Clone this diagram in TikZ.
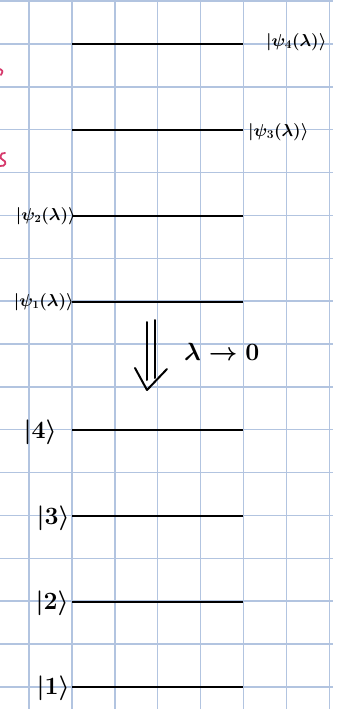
\documentclass[tikz,border=0pt]{standalone}
\usetikzlibrary{arrows.meta}
\definecolor{gridblue}{RGB}{178,196,224}
\definecolor{inkpink}{RGB}{214,58,108}
\tikzset{
  gridline/.style={gridblue, line width=1.4pt},
  level/.style={black, line width=2.4pt},
  ket/.style={inner sep=0pt, font=\fontsize{27}{30}\selectfont\boldmath},
  psilabel/.style={inner sep=0pt, font=\fontsize{18}{22}\selectfont\boldmath},
  psismall/.style={inner sep=0pt, font=\fontsize{16}{19}\selectfont\boldmath},
  pinkmark/.style={inkpink, line width=1.8pt, line cap=round}
}
\begin{document}
\begin{tikzpicture}[x=1pt,y=-1pt]
\useasboundingbox[fill=white] (0,0) rectangle (343,709);
% grid
\foreach \i in {0,...,7} \draw[gridline] ({29+42.9*\i},0) -- ({29+42.9*\i},709);
\foreach \j in {0,...,16} \draw[gridline] (0,{1.2+42.85*\j}) -- (333,{1.2+42.85*\j});
% pink remnants at left edge
\draw[pinkmark] (0,69) .. controls (3,71) .. (1,75);
\draw[pinkmark] (5,153) .. controls (0,152) and (-1,159) .. (3,160) .. controls (7,161) and (6,167) .. (0,166);
% level lines
\foreach \n/\y in {p4/44,p3/130,p2/216,p1/302,k4/430,k3/516,k2/602,k1/687} {
  \coordinate (\n L) at (72,\y);
  \coordinate (\n R) at (243,\y);
  \draw[level] (\n L) -- (\n R);
}
% labels
\node[psilabel, anchor=west] (lp4) at (266,42) {$|\psi_4(\lambda)\rangle$};
\node[psilabel, anchor=west] (lp3) at (248,132) {$|\psi_3(\lambda)\rangle$};
\node[psismall, anchor=east] (lp2) at (76,216) {$|\psi_2(\lambda)\rangle$};
\node[psismall, anchor=east] (lp1) at (74,302) {$|\psi_1(\lambda)\rangle$};
\node[ket, anchor=east] (lk4) at (57,432) {$|4\rangle$};
\node[ket, anchor=east] (lk3) at (70,518) {$|3\rangle$};
\node[ket, anchor=east] (lk2) at (69,603) {$|2\rangle$};
\node[ket, anchor=east] (lk1) at (70,688) {$|1\rangle$};
% limit arrow
\coordinate (atip) at (147,390);
\draw[black, line width=2pt, line cap=round] (147,322) -- (147,380);
\draw[black, line width=2pt, line cap=round] (155,320) -- (155,378);
\draw[black, line width=2pt, line cap=round, line join=round] (135,368) -- (atip) -- (167,369);
\node[inner sep=0pt, anchor=west, font=\fontsize{28}{32}\selectfont\boldmath] (lim) at (184,352) {$\lambda\to0$};
\end{tikzpicture}
\end{document}
